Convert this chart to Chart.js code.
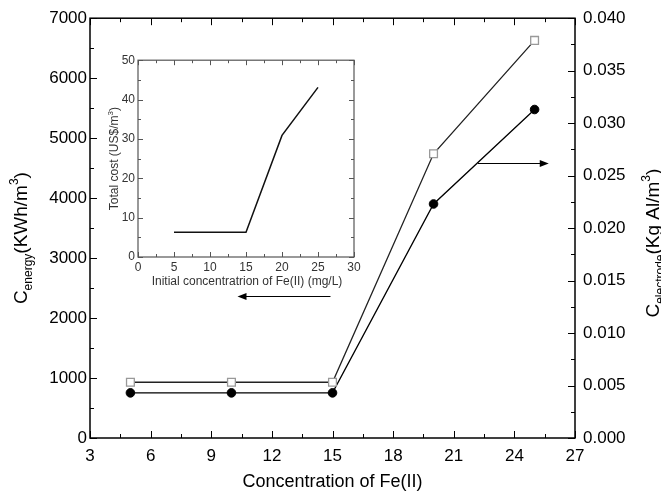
<!DOCTYPE html>
<html>
<head>
<meta charset="utf-8">
<script src="https://cdn.jsdelivr.net/npm/chart.js@4.4.1/dist/chart.umd.min.js"></script>
<style>
  html, body { margin: 0; padding: 0; background: #fff; }
  #wrap { position: relative; width: 661px; height: 498px; }
  #mainChart { position: absolute; left: 0; top: 0; }
  #insetChart { position: absolute; left: 100px; top: 50px; }
</style>
</head>
<body>
<div id="wrap">
  <canvas id="mainChart" width="661" height="498"></canvas>
  <canvas id="insetChart" width="265" height="245"></canvas>
</div>
<script>
// main chart data
const concentration = [5, 10, 15, 20, 25];
const energyCost = [930, 930, 930, 4740, 6630];          // KWh/m3, left axis
const electrodeCost = [0.0043, 0.0043, 0.0043, 0.0223, 0.0313]; // Kg Al/m3, right axis

// inset data
const insetConcentration = [5, 10, 15, 20, 25];
const totalCost = [6.3, 6.3, 6.3, 30.9, 43.1];

// tick labels
const mainXTicks = [3, 6, 9, 12, 15, 18, 21, 24, 27];
const energyTicks = [0, 1000, 2000, 3000, 4000, 5000, 6000, 7000];
const electrodeTicks = [0, 0.005, 0.01, 0.015, 0.02, 0.025, 0.03, 0.035, 0.04];
const insetXTicks = [0, 5, 10, 15, 20, 25, 30];
const insetYTicks = [0, 10, 20, 30, 40, 50];

// arrows pointing each curve to its axis (data coords)
const arrows = [
    { axis: 'yE', x0: 14.9, x1: 10.3, y: 2360 },
    { axis: 'yC', x0: 22.2, x1: 25.7, y: 0.0262 }
];

const FONT = "'Liberation Sans', Arial, sans-serif";

function setTicks(values) {
    return function(scale) {
        scale.ticks = values.map(v => ({ value: v }));
    };
}

function drawRich(ctx, parts, x, y, rotate) {
    ctx.save();
    ctx.translate(x, y);
    if (rotate) ctx.rotate(-Math.PI / 2);
    ctx.textBaseline = 'alphabetic';
    ctx.textAlign = 'left';
    let total = 0;
    parts.forEach(p => {
        ctx.font = p.size + 'px ' + FONT;
        p.w = ctx.measureText(p.t).width;
        total += p.w;
    });
    let cx = -total / 2;
    parts.forEach(p => {
        ctx.font = p.size + 'px ' + FONT;
        ctx.fillText(p.t, cx, p.dy || 0);
        cx += p.w;
    });
    ctx.restore();
}

// ticks drawn inward, plus the frame round the plot
const frameTicks = {
    id: 'frameTicks',
    afterDatasetsDraw(chart, args, opts) {
        const ctx = chart.ctx;
        const a = chart.chartArea;
        ctx.save();
        ctx.strokeStyle = opts.color;
        ctx.lineWidth = opts.width;
        ctx.strokeRect(a.left, a.top, a.right - a.left, a.bottom - a.top);
        ctx.lineWidth = 1;
        opts.axes.forEach(ax => {
            const s = chart.scales[ax.id];
            const major = s.ticks.map(t => t.value);
            const minor = major.slice(1).map((v, i) => (v + major[i]) / 2);
            const marks = major.map(v => [v, opts.major]).concat(minor.map(v => [v, opts.minor]));
            marks.forEach(([v, len]) => {
                const p = Math.round(s.getPixelForValue(v)) + 0.5;
                ax.sides.forEach(side => {
                    ctx.beginPath();
                    if (side === 'bottom') { ctx.moveTo(p, a.bottom); ctx.lineTo(p, a.bottom - len); }
                    if (side === 'top') { ctx.moveTo(p, a.top); ctx.lineTo(p, a.top + len); }
                    if (side === 'left') { ctx.moveTo(a.left, p); ctx.lineTo(a.left + len, p); }
                    if (side === 'right') { ctx.moveTo(a.right, p); ctx.lineTo(a.right - len, p); }
                    ctx.stroke();
                });
            });
        });
        ctx.restore();
    }
};

const mainDecor = {
    id: 'mainDecor',
    afterDraw(chart) {
        const ctx = chart.ctx;
        const a = chart.chartArea;
        ctx.save();
        ctx.fillStyle = '#000';
        ctx.strokeStyle = '#000';
        ctx.lineWidth = 1.2;
        arrows.forEach(ar => {
            const xs = chart.scales.x;
            const ys = chart.scales[ar.axis];
            const px0 = xs.getPixelForValue(ar.x0);
            const px1 = xs.getPixelForValue(ar.x1);
            const py = Math.round(ys.getPixelForValue(ar.y)) + 0.5;
            const dir = Math.sign(px1 - px0);
            ctx.beginPath();
            ctx.moveTo(px0, py);
            ctx.lineTo(px1 - dir * 7, py);
            ctx.stroke();
            ctx.beginPath();
            ctx.moveTo(px1, py);
            ctx.lineTo(px1 - dir * 9, py - 3.5);
            ctx.lineTo(px1 - dir * 9, py + 3.5);
            ctx.closePath();
            ctx.fill();
        });
        drawRich(ctx, [
            { t: 'C', size: 19 },
            { t: 'energy', size: 12, dy: 5 },
            { t: '(KWh/m', size: 19 },
            { t: '3', size: 12, dy: -9 },
            { t: ')', size: 19 }
        ], 27, (a.top + a.bottom) / 2 + 10, true);
        drawRich(ctx, [
            { t: 'C', size: 19 },
            { t: 'electrode', size: 12, dy: 5 },
            { t: '(Kg Al/m', size: 19 },
            { t: '3', size: 12, dy: -9 },
            { t: ')', size: 19 }
        ], 659, (a.top + a.bottom) / 2 + 15, true);
        ctx.font = '18px ' + FONT;
        ctx.textAlign = 'center';
        ctx.textBaseline = 'middle';
        ctx.fillText('Concentration of Fe(II)', (a.left + a.right) / 2, 482);
        ctx.restore();
    }
};

const insetDecor = {
    id: 'insetDecor',
    afterDraw(chart) {
        const ctx = chart.ctx;
        const a = chart.chartArea;
        ctx.save();
        ctx.fillStyle = '#333';
        drawRich(ctx, [
            { t: 'Total cost (US$/m', size: 12 },
            { t: '3', size: 8, dy: -5 },
            { t: ')', size: 12 }
        ], 18, (a.top + a.bottom) / 2, true);
        ctx.font = '12px ' + FONT;
        ctx.textAlign = 'center';
        ctx.textBaseline = 'middle';
        ctx.fillText('Initial concentratrion of Fe(II) (mg/L)', (a.left + a.right) / 2 + 1, 232);
        ctx.restore();
    }
};

const mainTickFont = { family: FONT, size: 17 };

new Chart(document.getElementById('mainChart'), {
    type: 'line',
    data: {
        datasets: [{
            label: 'C energy',
            yAxisID: 'yE',
            data: concentration.map((x, i) => ({ x: x, y: energyCost[i] })),
            borderColor: '#222',
            borderWidth: 1.3,
            pointStyle: 'rect',
            pointRadius: 5.5,
            pointBackgroundColor: '#fff',
            pointBorderColor: '#999',
            pointBorderWidth: 1.3,
            tension: 0
        }, {
            label: 'C electrode',
            yAxisID: 'yC',
            data: concentration.map((x, i) => ({ x: x, y: electrodeCost[i] })),
            borderColor: '#000',
            borderWidth: 1.3,
            pointStyle: 'circle',
            pointRadius: 4.3,
            pointBackgroundColor: '#000',
            pointBorderColor: '#000',
            pointBorderWidth: 1,
            tension: 0
        }]
    },
    options: {
        responsive: false,
        animation: false,
        layout: { padding: { top: 17, left: 0, right: 0, bottom: 0 } },
        plugins: {
            legend: { display: false },
            tooltip: { enabled: false },
            frameTicks: {
                color: '#000', width: 1.5, major: 7, minor: 4,
                axes: [
                    { id: 'x', sides: ['bottom', 'top'] },
                    { id: 'yE', sides: ['left'] },
                    { id: 'yC', sides: ['right'] }
                ]
            }
        },
        scales: {
            x: {
                type: 'linear', min: 3, max: 27,
                afterBuildTicks: setTicks(mainXTicks),
                afterFit: s => { s.height = 60; },
                grid: { display: false, drawTicks: false },
                border: { display: false },
                ticks: { font: mainTickFont, color: '#000', padding: 8, maxRotation: 0, callback: v => String(v) }
            },
            yE: {
                type: 'linear', position: 'left', min: 0, max: 7000,
                afterBuildTicks: setTicks(energyTicks),
                afterFit: s => { s.width = 90; },
                grid: { display: false, drawTicks: false },
                border: { display: false },
                ticks: { font: mainTickFont, color: '#000', padding: 3, callback: v => String(v) }
            },
            yC: {
                type: 'linear', position: 'right', min: 0, max: 0.04,
                afterBuildTicks: setTicks(electrodeTicks),
                afterFit: s => { s.width = 86; },
                grid: { display: false, drawTicks: false },
                border: { display: false },
                ticks: { font: mainTickFont, color: '#000', padding: 8, callback: v => v.toFixed(3) }
            }
        }
    },
    plugins: [frameTicks, mainDecor]
});

const insetTickFont = { family: FONT, size: 12 };

new Chart(document.getElementById('insetChart'), {
    type: 'line',
    data: {
        datasets: [{
            label: 'Total cost',
            data: insetConcentration.map((x, i) => ({ x: x, y: totalCost[i] })),
            borderColor: '#111',
            borderWidth: 1.5,
            pointRadius: 0,
            tension: 0
        }]
    },
    options: {
        responsive: false,
        animation: false,
        layout: { padding: { top: 9, left: 0, right: 11, bottom: 0 } },
        plugins: {
            legend: { display: false },
            tooltip: { enabled: false },
            frameTicks: {
                color: '#555', width: 1.2, major: 5, minor: 3,
                axes: [
                    { id: 'x', sides: ['bottom', 'top'] },
                    { id: 'y', sides: ['left', 'right'] }
                ]
            }
        },
        scales: {
            x: {
                type: 'linear', min: 0, max: 30,
                afterBuildTicks: setTicks(insetXTicks),
                afterFit: s => { s.height = 38; },
                grid: { display: false, drawTicks: false },
                border: { display: false },
                ticks: { font: insetTickFont, color: '#333', padding: 3, maxRotation: 0 }
            },
            y: {
                type: 'linear', min: 0, max: 50,
                afterBuildTicks: setTicks(insetYTicks),
                afterFit: s => { s.width = 38; },
                grid: { display: false, drawTicks: false },
                border: { display: false },
                ticks: { font: insetTickFont, color: '#333', padding: 3 }
            }
        }
    },
    plugins: [frameTicks, insetDecor]
});
</script>
</body>
</html>
